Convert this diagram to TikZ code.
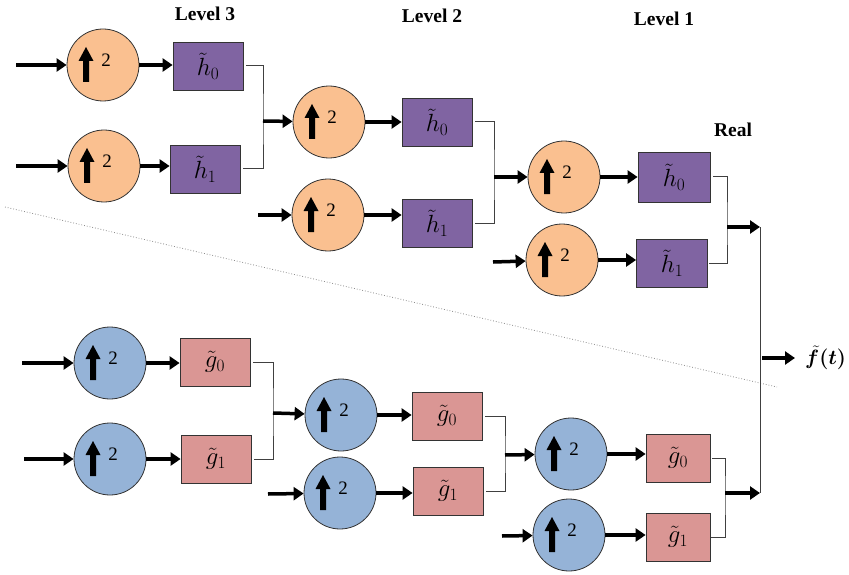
\documentclass[tikz,border=0pt]{standalone}
\usepackage{amsmath,amssymb,bm}
\usepackage{fontspec}
\setmainfont{Liberation Serif}
\usepackage{tikz}
\usetikzlibrary{arrows.meta,calc}
\definecolor{upor}{HTML}{FAC090}
\definecolor{upbl}{HTML}{95B3D7}
\definecolor{hpur}{HTML}{8064A2}
\definecolor{gpink}{HTML}{DA9694}
\tikzset{
  upsamp/.style={circle, draw=black!80, line width=0.8pt, minimum size=72pt, inner sep=0pt,
    path picture={
      \fill[black] ([xshift=-17pt,yshift=18pt]path picture bounding box.center) -- ++(7.5pt,-14pt)
        -- ++(-4.5pt,0pt) -- ++(0pt,-21pt) -- ++(-6pt,0pt) -- ++(0pt,21pt) -- ++(-4.5pt,0pt) -- cycle;
      \node[font=\fontsize{19}{19}\selectfont, inner sep=0pt] at ([xshift=3pt,yshift=5pt]path picture bounding box.center) {2};
    }},
  upor/.style={upsamp, fill=upor},
  upbl/.style={upsamp, fill=upbl},
  filt/.style={rectangle, draw=black!80, line width=0.8pt, minimum width=70pt, minimum height=48pt,
    inner sep=0pt, font=\fontsize{23}{23}\selectfont},
  hfilt/.style={filt, fill=hpur},
  gfilt/.style={filt, fill=gpink},
  lvl/.style={font=\fontsize{19.5}{20}\selectfont\bfseries},
  arr/.style={-{Triangle[length=10pt,width=13pt]}, line width=3.5pt},
  wire/.style={line width=1pt, draw=black!75},
}
\begin{document}
\begin{tikzpicture}[x=1pt,y=-1pt]
\useasboundingbox (0,0) rectangle (849,575);

% level labels
\node[lvl] (lev3) at (205,14) {Level 3};
\node[lvl] (lev2) at (432,16) {Level 2};
\node[lvl] (lev1) at (664,19) {Level 1};
\node[lvl] (real) at (733,130) {Real};

% top branch
\node[upor] (c3a) at (103,65) {};
\node[upor] (c3b) at (104,166) {};
\node[hfilt] (h3a) at (208,66) {$\tilde{h}_0$};
\node[hfilt] (h3b) at (205,169) {$\tilde{h}_1$};
\node[upor] (c2a) at (329,122) {};
\node[upor] (c2b) at (328,215) {};
\node[hfilt] (h2a) at (437,122) {$\tilde{h}_0$};
\node[hfilt] (h2b) at (437,223) {$\tilde{h}_1$};
\node[upor] (c1a) at (564,177) {};
\node[upor] (c1b) at (562,260) {};
\node[hfilt, minimum width=72pt, minimum height=50pt] (h1a) at (674,177) {$\tilde{h}_0$};
\node[hfilt, minimum width=71pt] (h1b) at (672,263) {$\tilde{h}_1$};

% bottom branch
\node[upbl] (d3a) at (110,363) {};
\node[upbl] (d3b) at (110,459) {};
\node[gfilt] (g3a) at (215,362) {$\tilde{g}_0$};
\node[gfilt] (g3b) at (216,459) {$\tilde{g}_1$};
\node[upbl] (d2a) at (341,415) {};
\node[upbl] (d2b) at (340,493) {};
\node[gfilt] (g2a) at (447,416) {$\tilde{g}_0$};
\node[gfilt] (g2b) at (448,491) {$\tilde{g}_1$};
\node[upbl] (d1a) at (571,454) {};
\node[upbl] (d1b) at (569,535) {};
\node[gfilt, minimum width=64pt] (g1a) at (678,458) {$\tilde{g}_0$};
\node[gfilt, minimum width=64pt] (g1b) at (678,537) {$\tilde{g}_1$};

\node[font=\fontsize{22}{22}\selectfont, anchor=west, inner sep=0pt] (ft) at (805,358) {$\bm{\tilde{f}(t)}$};

% free ends and junctions
\coordinate (in3a) at (16,65);
\coordinate (in3b) at (16,166);
\coordinate (in2b) at (258,215);
\coordinate (in1b) at (493,262);
\coordinate (jn3a) at (22,363);
\coordinate (jn3b) at (24,459);
\coordinate (jn2b) at (268,494);
\coordinate (jn1b) at (502,536);
\coordinate (j3t) at (263,121);
\coordinate (j2t) at (494,177);
\coordinate (j1t) at (727,227);
\coordinate (j3b) at (273,413);
\coordinate (j2b) at (505,455);
\coordinate (j1b) at (725,493);
\coordinate (sumt) at (760,227);
\coordinate (sumb) at (760,493);
\coordinate (outs) at (762,358);
\coordinate (sep1) at (5,207);
\coordinate (sep2) at (777,387);

% separator
\draw[black!45, dotted, line width=0.8pt] (sep1) -- (sep2);

% top arrows
\draw[arr] (in3a) -- (c3a);
\draw[arr] (in3b) -- (c3b);
\draw[arr] (c3a) -- (c3a -| h3a.west);
\draw[arr] (c3b) -- (c3b -| h3b.west);
\draw[wire] ([xshift=3pt]h3a.east) -| (j3t) |- ([xshift=3pt]h3b.east);
\draw[arr] (j3t) -- (c2a);
\draw[arr] (in2b) -- (c2b);
\draw[arr] (c2a) -- (c2a -| h2a.west);
\draw[arr] (c2b) -- (c2b -| h2b.west);
\draw[wire] ([xshift=3pt]h2a.east) -| (j2t) |- ([xshift=3pt]h2b.east);
\draw[arr] (j2t) -- (c1a);
\draw[arr] (in1b) -- (c1b);
\draw[arr] (c1a) -- (c1a -| h1a.west);
\draw[arr] (c1b) -- (c1b -| h1b.west);
\draw[wire] ([xshift=3pt]h1a.east) -| (j1t) |- ([xshift=1pt]h1b.east);
\draw[arr] (j1t) -- (sumt);

% bottom arrows
\draw[arr] (jn3a) -- (d3a);
\draw[arr] (jn3b) -- (d3b);
\draw[arr] (d3a) -- (d3a -| g3a.west);
\draw[arr] (d3b) -- (d3b -| g3b.west);
\draw[wire] ([xshift=3pt]g3a.east) -| (j3b) |- ([xshift=3pt]g3b.east);
\draw[arr] (j3b) -- (d2a);
\draw[arr] (jn2b) -- (d2b);
\draw[arr] (d2a) -- (d2a -| g2a.west);
\draw[arr] (d2b) -- (d2b -| g2b.west);
\draw[wire] ([xshift=3pt]g2a.east) -| (j2b) |- ([xshift=3pt]g2b.east);
\draw[arr] (j2b) -- (d1a);
\draw[arr] (jn1b) -- (d1b);
\draw[arr] (d1a) -- (d1a -| g1a.west);
\draw[arr] (d1b) -- (d1b -| g1b.west);
\draw[wire] ([xshift=2pt]g1a.east) -| (j1b) |- ([xshift=1pt]g1b.east);
\draw[arr] (j1b) -- (sumb);

% output
\draw[wire] (sumt) -- (sumb);
\draw[arr] (outs) -- ([xshift=-10pt]ft.west);
\end{tikzpicture}
\end{document}
